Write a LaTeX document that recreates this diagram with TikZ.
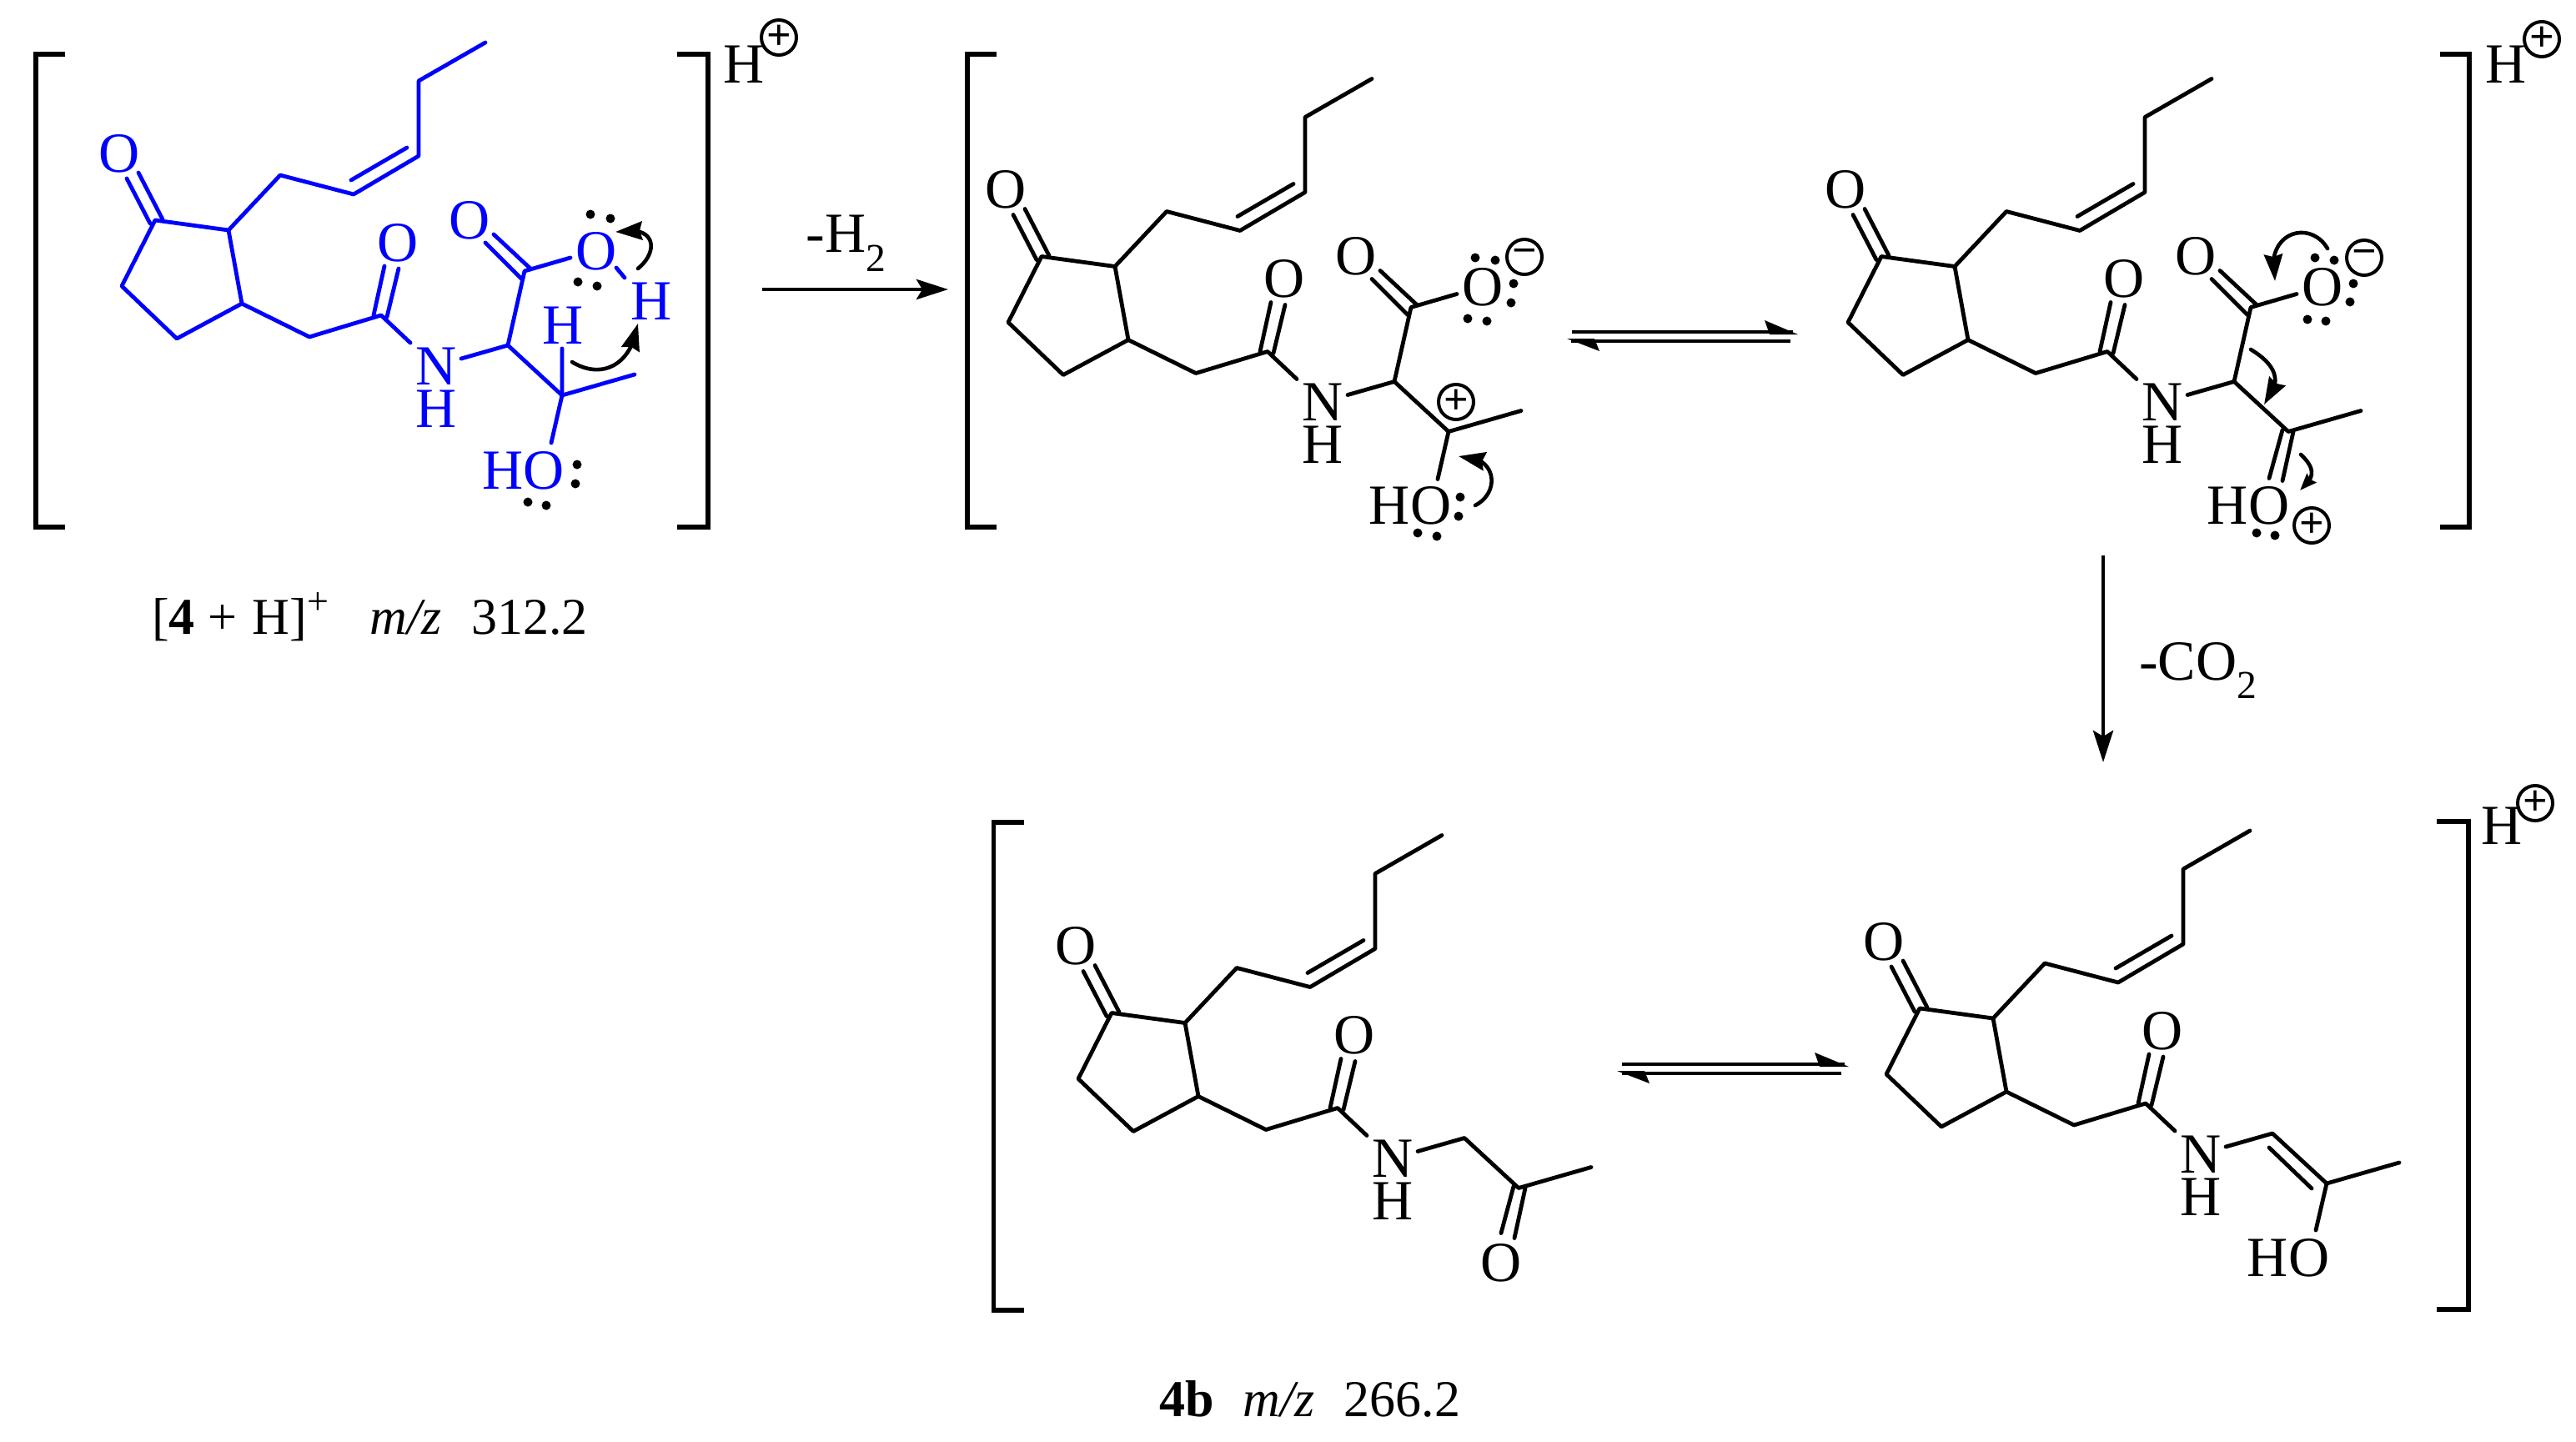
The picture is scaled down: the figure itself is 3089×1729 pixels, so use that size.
\documentclass[tikz,border=0pt]{standalone}
\usepackage{fontspec}
\setmainfont{Liberation Serif}
\usetikzlibrary{arrows.meta,bending}
\definecolor{molblue}{RGB}{0,0,255}
\tikzset{
  bond/.style={line width=4.8pt,line cap=round,line join=round},
  brk/.style={line width=5.5pt,line cap=butt,line join=miter},
  atom/.style={inner sep=0pt,outer sep=0pt,font=\fontsize{68}{80}\selectfont},
  lab/.style={inner sep=0pt,outer sep=0pt,font=\fontsize{68}{80}\selectfont},
  capt/.style={inner sep=0pt,outer sep=0pt,font=\fontsize{62}{74}\selectfont},
  chg/.style={circle,draw,line width=4pt,minimum size=42pt,inner sep=0pt,font=\fontsize{52}{56}\selectfont\bfseries},
  rxn/.style={line width=4.8pt,-{Stealth[length=38pt,width=24pt,inset=7pt]}},
  eq/.style={line width=4.8pt},
  head/.style={fill=black,draw=none},
  curly/.style={black,line width=4.6pt,line cap=round,-{Stealth[length=32pt,width=22pt,inset=3pt,flex]}}
}
% common skeleton, in the coordinates of the first structure
\newcommand\skel[1]{%
  \coordinate (#1c1) at (186,264);
  \coordinate (#1c2) at (274,276);
  \coordinate (#1c3) at (290,364);
  \coordinate (#1c4) at (212,406);
  \coordinate (#1c5) at (146,343);
  \coordinate (#1a1) at (336,210);
  \coordinate (#1a2) at (424,233);
  \coordinate (#1a3) at (502,187);
  \coordinate (#1a4) at (502,97);
  \coordinate (#1a5) at (582,51);
  \coordinate (#1a6) at (421,216);
  \coordinate (#1a7) at (488,177);
  \coordinate (#1m) at (371,404);
  \coordinate (#1am) at (457,378);
  \coordinate (#1ca) at (609,414);
  \coordinate (#1cb) at (674,474);
  \coordinate (#1me) at (761,449);
  \node[atom] (#1ok) at (143,184) {O};
  \node[atom] (#1oa) at (477,291) {O};
  \node[atom] (#1n) at (523,439) {N};
  \node[atom] (#1h) at (523,490) {H};
  \coordinate (#1k1) at (152,214);
  \coordinate (#1k2) at (180,268);
  \coordinate (#1k3) at (166,207);
  \coordinate (#1k4) at (195,263);
  \coordinate (#1p1) at (461,319);
  \coordinate (#1p2) at (448,378);
  \coordinate (#1p3) at (478,322);
  \coordinate (#1p4) at (464,380);
  \coordinate (#1n1) at (492,411);
  \coordinate (#1n2) at (553,430);
  \draw[bond] (#1c1)--(#1c2)--(#1c3)--(#1c4)--(#1c5)--cycle;
  \draw[bond] (#1k1)--(#1k2) (#1k3)--(#1k4);
  \draw[bond] (#1c2)--(#1a1)--(#1a2)--(#1a3)--(#1a4)--(#1a5) (#1a6)--(#1a7);
  \draw[bond] (#1c3)--(#1m)--(#1am)--(#1n1) (#1p1)--(#1p2) (#1p3)--(#1p4);
  \draw[bond] (#1n2)--(#1ca)--(#1cb)--(#1me);
}
% carboxyl group and hydroxyl oxygen of the first three structures
\newcommand\acid[1]{%
  \coordinate (#1cc) at (629,325);
  \coordinate (#1q1) at (592,281);
  \coordinate (#1q2) at (636,322);
  \coordinate (#1q3) at (582,291);
  \coordinate (#1q4) at (625,334);
  \coordinate (#1q5) at (684,309);
  \node[atom] (#1oc) at (563,264) {O};
  \node[atom] (#1oh) at (715,301) {O};
  \draw[bond] (#1ca)--(#1cc)--(#1q5) (#1q1)--(#1q2) (#1q3)--(#1q4);
}
\begin{document}
\begin{tikzpicture}[x=1pt,y=-1pt]
\useasboundingbox (0,0) rectangle (3089,1729);
\fill[white] (0,0) rectangle (3089,1729);

% ---------- structure 1 (blue)
\begin{scope}[color=molblue]
  \skel{a}
  \acid{a}
  \coordinate (ahb) at (674,418);
  \coordinate (ao) at (661,531);
  \coordinate (aoh1) at (739,321);
  \coordinate (aoh2) at (749,333);
  \node[atom] (ahtop) at (675,390) {H};
  \node[atom] (ahr) at (781,361) {H};
  \node[atom] (aho) at (628,564) {HO};
  \draw[bond] (acb)--(ahb) (acb)--(ao) (aoh1)--(aoh2);
  \foreach \q in {{708,257},{732,262},{693,338},{716,343},{692,557},{690,580},{633,602},{655,606}}
    \fill[black] (\q) circle[radius=5.5pt];
\end{scope}
\coordinate (c1s) at (765,322); \coordinate (c1e) at (738,278);
\draw[curly] (c1s) .. controls (790,302) and (788,268) .. (c1e);
\coordinate (c2s) at (686,434); \coordinate (c2e) at (765,388);
\draw[curly] (c2s) .. controls (720,455) and (757,440) .. (c2e);
\draw[brk] (78,65) -- (43,65) -- (43,632) -- (78,632);
\draw[brk] (812,65) -- (849,65) -- (849,632) -- (812,632);
\node[lab] (h1) at (892,77) {H};
\node[chg] (p1) at (934,45) {+};
\node[capt,anchor=base west] (cap1) at (182,760)
  {[\textbf{4}\hspace{16pt}+\hspace{18pt}H]\raisebox{24pt}{\fontsize{46}{50}\selectfont+}\hspace{50pt}\textit{m/z}\hspace{35pt}312.2};

% ---------- arrow -H2
\coordinate (r1s) at (914,347); \coordinate (r1e) at (1137,347);
\draw[rxn] (r1s) -- (r1e);
\node[lab] (l1) at (1015,292) {-H\textsubscript{2}};

% ---------- structure 2
\begin{scope}[shift={(1063,43.5)}]
  \skel{b}
  \acid{b}
  \coordinate (bo) at (661,531);
  \node[atom] (bho) at (628,563) {HO};
  \draw[bond] (bcb)--(bo);
\end{scope}
\foreach \q in {{1769,309},{1793,312},{1815,340},{1812,363},{1760,382},{1783,385},{1751,596},{1749,619},{1700,639},{1723,643}}
  \fill (\q) circle[radius=5.5pt];
\node[chg] (m2) at (1828,308) {−};
\node[chg] (p2b) at (1746,482) {+};
\coordinate (c3s) at (1769,606); \coordinate (c3e) at (1749,547);
\draw[curly] (c3s) .. controls (1800,590) and (1795,545) .. (c3e);
\draw[brk] (1195,65) -- (1160,65) -- (1160,632) -- (1195,632);

% ---------- equilibrium 1
\coordinate (e1a) at (1885,398); \coordinate (e1b) at (2150,398);
\coordinate (e1c) at (2147,409); \coordinate (e1d) at (1884,409);
\draw[eq] (e1a) -- (e1b);
\draw[eq] (e1c) -- (e1d);
\fill[head] (2156,401) -- (2116,384) -- (2122,401) -- cycle;
\fill[head] (1879,406) -- (1918,421) -- (1912,406) -- cycle;

% ---------- structure 3
\begin{scope}[shift={(2070,43.5)}]
  \skel{c}
  \acid{c}
  \coordinate (cd1) at (667,472);
  \coordinate (cd2) at (651,530);
  \coordinate (cd3) at (680,474);
  \coordinate (cd4) at (667,533);
  \node[atom] (cho) at (626,563) {HO};
  \draw[bond] (cd1)--(cd2) (cd3)--(cd4);
\end{scope}
\foreach \q in {{2776,309},{2799,312},{2822,340},{2818,362},{2767,383},{2789,385},{2706,639},{2728,642}}
  \fill (\q) circle[radius=5.5pt];
\node[chg] (m3) at (2835,309) {−};
\node[chg] (p3b) at (2772,630) {+};
\coordinate (c4s) at (2791,298); \coordinate (c4e) at (2728,337);
\draw[curly] (c4s) .. controls (2770,262) and (2714,278) .. (c4e);
\coordinate (c5s) at (2699,419); \coordinate (c5e) at (2715,485);
\draw[curly] (c5s) .. controls (2730,438) and (2738,458) .. (c5e);
\coordinate (c6s) at (2759,545); \coordinate (c6e) at (2758,588);
\draw[curly,-{Stealth[length=20pt,width=15pt,inset=2pt,flex]}] (c6s) .. controls (2775,560) and (2778,572) .. (c6e);
\draw[brk] (2926,65) -- (2961,65) -- (2961,632) -- (2926,632);
\node[lab] (h3) at (3005,77) {H};
\node[chg] (p3) at (3048,47) {+};

% ---------- arrow -CO2
\coordinate (r2s) at (2522,666); \coordinate (r2e) at (2522,914);
\draw[rxn] (r2s) -- (r2e);
\node[lab] (l2) at (2636,804) {-CO\textsubscript{2}};

% ---------- structure 4
\begin{scope}[shift={(1147,950.5)}]
  \skel{d}
  \coordinate (dd1) at (668,472);
  \coordinate (dd2) at (653,528);
  \coordinate (dd3) at (682,474);
  \coordinate (dd4) at (669,534);
  \node[atom] (do) at (653,564) {O};
  \draw[bond] (dd1)--(dd2) (dd3)--(dd4);
\end{scope}
\draw[brk] (1228,986) -- (1191.5,986) -- (1191.5,1571) -- (1228,1571);
\node[capt,anchor=base west] (cap2) at (1390,1698)
  {\textbf{4b}\hspace{35pt}\textit{m/z}\hspace{35pt}266.2};

% ---------- equilibrium 2
\coordinate (e2a) at (1945,1276); \coordinate (e2b) at (2212,1276);
\coordinate (e2c) at (2208,1287); \coordinate (e2d) at (1945,1287);
\draw[eq] (e2a) -- (e2b);
\draw[eq] (e2c) -- (e2d);
\fill[head] (2217,1279) -- (2176,1262) -- (2182,1279) -- cycle;
\fill[head] (1939,1284) -- (1978,1299) -- (1972,1284) -- cycle;

% ---------- structure 5
\begin{scope}[shift={(2116,945)}]
  \skel{e}
  \coordinate (ed1) at (605,431);
  \coordinate (ed2) at (656,480);
  \coordinate (eo) at (661,530);
  \node[atom] (eho) at (628,563) {HO};
  \draw[bond] (ed1)--(ed2) (ecb)--(eo);
\end{scope}
\draw[brk] (2922,985) -- (2960,985) -- (2960,1570) -- (2922,1570);
\node[lab] (h5) at (3000,990) {H};
\node[chg] (p5) at (3040,963) {+};
\end{tikzpicture}
\end{document}
